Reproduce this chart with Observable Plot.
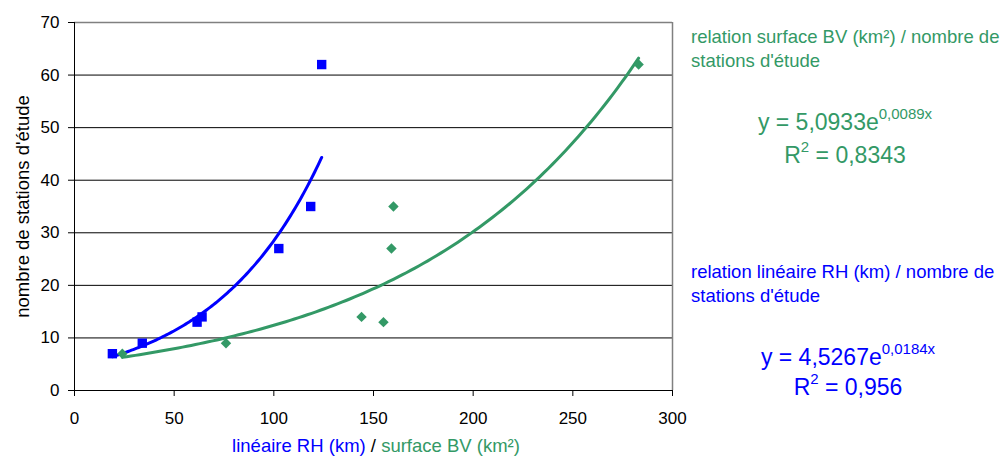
<!DOCTYPE html>
<html>
<head>
<meta charset="utf-8">
<script src="https://cdn.jsdelivr.net/npm/d3@7"></script>
<script src="https://cdn.jsdelivr.net/npm/@observablehq/plot@0.6"></script>
<style>
  html, body { margin: 0; padding: 0; background: #fff; }
  body { font-family: "Liberation Sans", Arial, sans-serif; }
  #wrap { position: relative; width: 1005px; height: 460px; }
  .ann { position: absolute; white-space: nowrap; font-size: 18.5px; line-height: 24px; }
  .eq { position: absolute; white-space: nowrap; text-align: center; width: 220px; font-size: 23px; line-height: 26px; }
  .eq sup { font-size: 15px; vertical-align: 0; position: relative; top: -0.75em; }
  .green { color: #339966; }
  .blue { color: #0000ff; }
</style>
</head>
<body>
<div id="wrap"></div>
<script>
// Data
const blueX = [19, 34, 61.5, 64, 102.5, 118.5, 124];   // linéaire RH (km)
const blueY = [7, 9, 13, 14, 27, 35, 62];              // nombre de stations
const greenX = [24, 76, 144, 155, 159, 160, 283];      // surface BV (km²)
const greenY = [7, 9, 14, 13, 27, 35, 62];             // nombre de stations

// Exponential trend coefficients shown on the chart
const blueA = 4.5267, blueB = 0.0184;
const greenA = 5.0933, greenB = 0.0089;

const xTicks = [0, 50, 100, 150, 200, 250, 300];
const yTicks = [0, 10, 20, 30, 40, 50, 60, 70];
const yTitle = "nombre de stations d'étude";

const BLUE = "#0000ff";
const GREEN = "#339966";

const bluePts = blueX.map((x, i) => ({x, y: blueY[i]}));
const greenPts = greenX.map((x, i) => ({x, y: greenY[i]}));

function trend(xs, a, b) {
  const lo = d3.min(xs), hi = d3.max(xs);
  const n = 120;
  return d3.range(n + 1).map(i => {
    const x = lo + (hi - lo) * i / n;
    return {x, y: a * Math.exp(b * x)};
  });
}
const blueTrend = trend(blueX, blueA, blueB);
const greenTrend = trend(greenX, greenA, greenB);

const chart = Plot.plot({
  width: 1005,
  height: 460,
  marginLeft: 74,
  marginRight: 333,
  marginTop: 22,
  marginBottom: 70,
  style: {fontFamily: "'Liberation Sans', Arial, sans-serif", fontSize: "17px", color: "#000", background: "#fff"},
  x: {domain: [0, 300], ticks: xTicks, tickSize: 6, tickPadding: 15, label: null},
  y: {domain: [0, 70], ticks: yTicks, tickSize: 6, tickPadding: 9, label: null},
  marks: [
    Plot.gridY(yTicks.filter(d => d > 0 && d < 70), {stroke: "#000", strokeOpacity: 1}),
    Plot.ruleY([70], {stroke: "#808080", strokeWidth: 1.5}),
    Plot.ruleX([300], {stroke: "#808080", strokeWidth: 1.5}),
    Plot.ruleY([0], {stroke: "#000"}),
    Plot.ruleX([0], {stroke: "#000"}),
    Plot.line(greenTrend, {x: "x", y: "y", stroke: GREEN, strokeWidth: 3}),
    Plot.line(blueTrend, {x: "x", y: "y", stroke: BLUE, strokeWidth: 3}),
    Plot.dot(greenPts, {x: "x", y: "y", symbol: "diamond2", r: 4.7, fill: GREEN, stroke: "none"}),
    Plot.dot(bluePts, {x: "x", y: "y", symbol: "square", r: 5.3, fill: BLUE, stroke: "none"}),
    Plot.text([yTitle], {text: d => d, frameAnchor: "left", textAnchor: "middle", dx: -51, rotate: -90, fontSize: 18.5, fill: "#000"})
  ]
});

const wrap = document.getElementById("wrap");
wrap.appendChild(chart);

function addDiv(cls, html, left, top) {
  const d = document.createElement("div");
  d.className = cls;
  d.innerHTML = html;
  d.style.left = left + "px";
  d.style.top = top + "px";
  wrap.appendChild(d);
  return d;
}

// x-axis title in two colours
const xt = addDiv("ann", '<span class="blue">linéaire RH (km)</span> / <span class="green">surface BV (km²)</span>', 0, 434);
xt.style.width = "752px"; xt.style.textAlign = "center"; xt.style.fontSize = "18.5px";

// annotations
addDiv("ann green", "relation surface BV (km²) / nombre de<br>stations d'étude", 691, 25);
addDiv("eq green", "y = 5,0933e<sup>0,0089x</sup>", 735, 109);
addDiv("eq green", "R<sup>2</sup> = 0,8343", 735, 142);

addDiv("ann blue", "relation linéaire RH (km) / nombre de<br>stations d'étude", 691, 260);
addDiv("eq blue", "y = 4,5267e<sup>0,0184x</sup>", 738, 344);
addDiv("eq blue", "R<sup>2</sup> = 0,956", 738, 374);
</script>
</body>
</html>
